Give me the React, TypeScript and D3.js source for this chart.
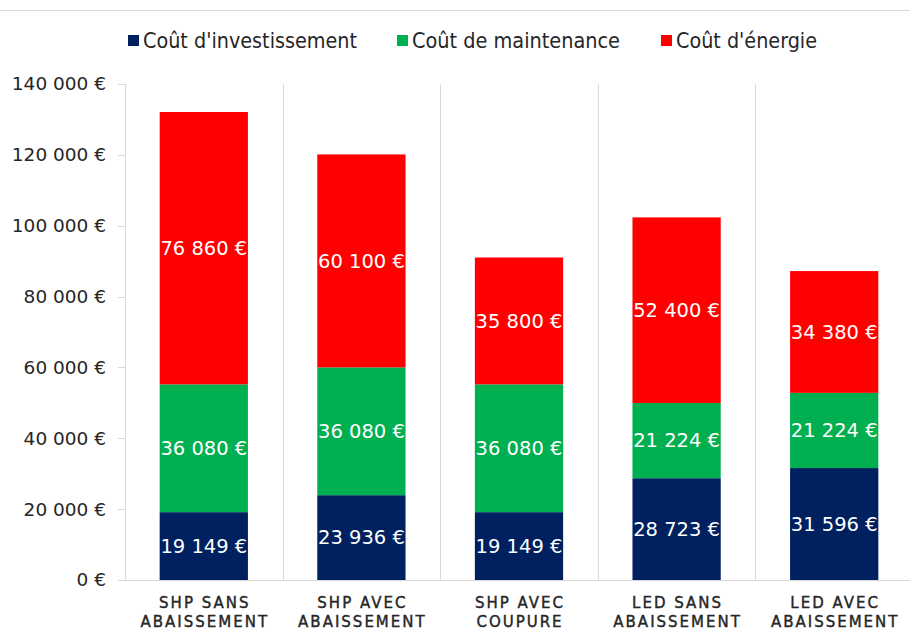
import React from "react";
import * as d3 from "d3";

const categories = [
  ["SHP SANS", "ABAISSEMENT"],
  ["SHP AVEC", "ABAISSEMENT"],
  ["SHP AVEC", "COUPURE"],
  ["LED SANS", "ABAISSEMENT"],
  ["LED AVEC", "ABAISSEMENT"],
];
const investissement = [19149, 23936, 19149, 28723, 31596];
const maintenance = [36080, 36080, 36080, 21224, 21224];
const energie = [76860, 60100, 35800, 52400, 34380];
const seriesNames = ["Coût d'investissement", "Coût de maintenance", "Coût d'énergie"];
const seriesColors = ["#002060", "#00B050", "#FF0000"];
const yTicks = [0, 20000, 40000, 60000, 80000, 100000, 120000, 140000];

const W = 910, H = 631;
const left = 125, right = 913, top = 84, bottom = 580;

const fmt = (v: number) => {
  const s = String(Math.round(v)).replace(/\B(?=(\d{3})+(?!\d))/g, " ");
  return s + " €";
};

export default function App() {
  const x = d3.scaleBand<number>().domain(d3.range(categories.length)).range([left, right]).paddingInner(0.44).paddingOuter(0.22);
  const band = d3.scaleBand<number>().domain(d3.range(categories.length)).range([left, right]);
  const y = d3.scaleLinear().domain([0, 140000]).range([bottom, top]);
  const series = [investissement, maintenance, energie];
  const font = "'DejaVu Sans', Verdana, sans-serif";

  const legendItems = [
    { x: 128, w: 214 },
    { x: 397, w: 208 },
    { x: 661, w: 141 },
  ];

  return (
    <svg width={W} height={H} style={{ position: "absolute", left: 0, top: 0 }} fontFamily={font}>
      <rect width={W} height={H} fill="#fff" />
      <line x1={0} x2={W} y1={10.5} y2={10.5} stroke="#d9d9d9" />
      {/* legend */}
      {seriesNames.map((n, i) => (
        <g key={n}>
          <rect x={legendItems[i].x} y={35} width={11} height={11} fill={seriesColors[i]} />
          <text x={legendItems[i].x + 15} y={48} fontSize={22} fill="#262626" textLength={legendItems[i].w} lengthAdjust="spacingAndGlyphs">{n}</text>
        </g>
      ))}
      {/* vertical gridlines */}
      {d3.range(categories.length + 1).map((i) => {
        const gx = Math.round(left + band.step() * i) + 0.5;
        return <line key={i} x1={gx} x2={gx} y1={top} y2={bottom} stroke="#d9d9d9" />;
      })}
      {/* y axis ticks */}
      {yTicks.map((t) => (
        <g key={t}>
          <line x1={118} x2={left} y1={Math.round(y(t)) + 0.5} y2={Math.round(y(t)) + 0.5} stroke="#d9d9d9" />
          <text x={106} y={y(t)} dy="0.35em" textAnchor="end" fontSize={18.5} fill="#262626">{fmt(t)}</text>
        </g>
      ))}
      <line x1={118} x2={right} y1={bottom + 0.5} y2={bottom + 0.5} stroke="#d9d9d9" />
      {/* bars */}
      {categories.map((c, i) => {
        let acc = 0;
        return (
          <g key={i}>
            {series.map((s, k) => {
              const v0 = acc;
              const v1 = acc + s[i];
              acc = v1;
              return (
                <g key={k}>
                  <rect x={x(i)} width={x.bandwidth()} y={y(v1)} height={y(v0) - y(v1)} fill={seriesColors[k]} />
                  <text x={x(i)! + x.bandwidth() / 2} y={(y(v0) + y(v1)) / 2} dy="0.35em" textAnchor="middle" fontSize={19.5} fill="#fff">{fmt(s[i])}</text>
                </g>
              );
            })}
            <text textAnchor="middle" fontSize={15} fill="#262626" stroke="#262626" strokeWidth={0.4} letterSpacing={2}>
              <tspan x={band(i)! + band.bandwidth() / 2 + 1} y={608}>{c[0]}</tspan>
              <tspan x={band(i)! + band.bandwidth() / 2 + 1} y={627}>{c[1]}</tspan>
            </text>
          </g>
        );
      })}
    </svg>
  );
}
